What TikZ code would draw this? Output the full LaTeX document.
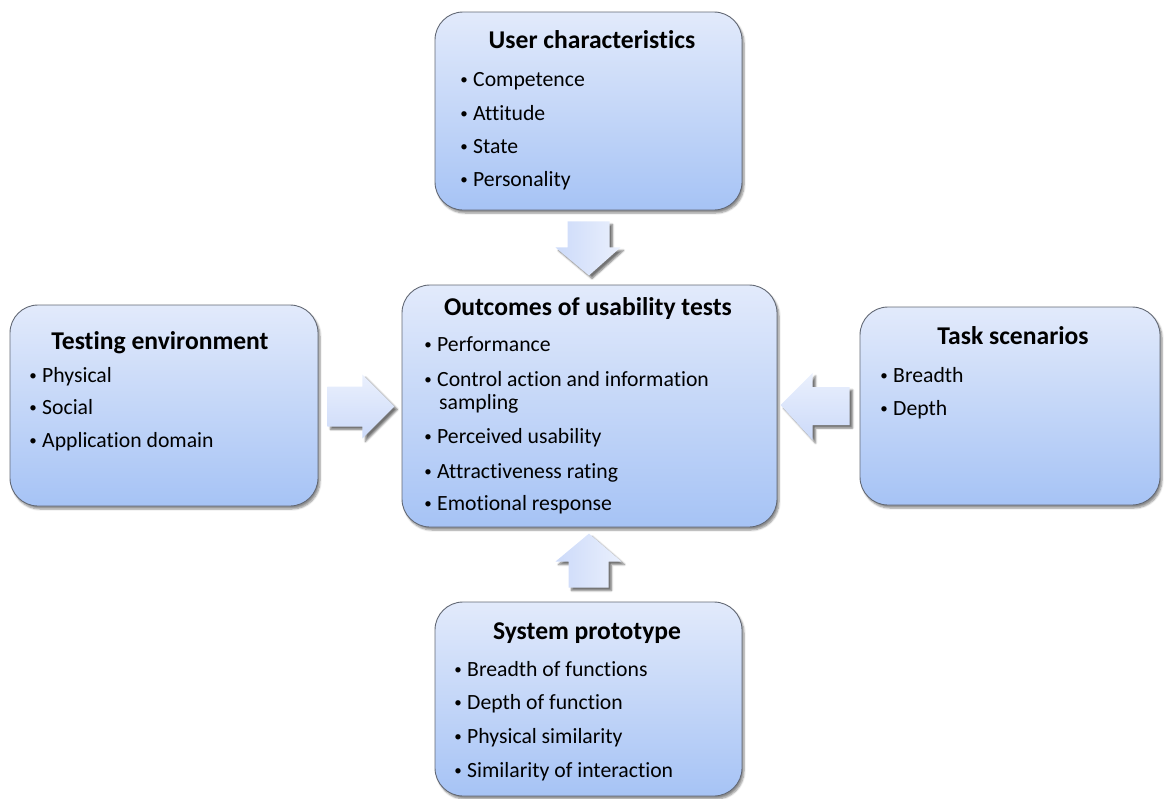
\documentclass[tikz,border=0pt]{standalone}
\usepackage{fontspec}
\setmainfont{Carlito}[Ligatures={NoCommon}]
\usetikzlibrary{calc,shadows.blur}
\definecolor{boxtop}{RGB}{226,234,251}
\definecolor{boxbot}{RGB}{166,195,245}
\definecolor{boxline}{RGB}{98,104,116}
\definecolor{arrA}{RGB}{204,218,249}
\definecolor{arrB}{RGB}{234,240,253}
\tikzset{
  box/.style={draw=boxline, line width=0.9pt, rounded corners=28pt,
    top color=boxtop, bottom color=boxbot, inner sep=0pt,
    blur shadow={shadow xshift=2pt, shadow yshift=-3pt, shadow blur steps=6, shadow opacity=45}},
  head/.style={font=\bfseries\fontsize{25.6}{30}\selectfont, anchor=base, inner sep=0pt},
  itm/.style={font=\fontsize{21.7}{26}\selectfont, anchor=base west, inner sep=0pt},
  bul/.style={font=\fontsize{15}{18}\selectfont, anchor=base east, inner sep=0pt},
  varrow/.style={left color=arrA, right color=arrB,
    blur shadow={shadow xshift=3pt, shadow yshift=-3pt, shadow blur steps=5, shadow opacity=55}},
  harrow/.style={top color=arrB, bottom color=arrA,
    blur shadow={shadow xshift=3pt, shadow yshift=-3pt, shadow blur steps=5, shadow opacity=55}}
}
\newcommand{\bitem}[4]{%
  \node[itm] (#1) at (#2,#3) {#4};
  \node[bul] (#1b) at ([xshift=-5pt,yshift=1.8pt]#1.base west) {•};}
\begin{document}
\begin{tikzpicture}[x=1pt,y=-1pt]
\useasboundingbox (0,0) rectangle (1166,798);

% boxes
\node[box, minimum width=307pt, minimum height=198pt] (user) at (588.5,111) {};
\node[box, minimum width=375pt, minimum height=242pt] (out) at (589.5,406) {};
\node[box, minimum width=308pt, minimum height=201pt] (env) at (164,405.5) {};
\node[box, minimum width=300pt, minimum height=198pt] (task) at (1010,406) {};
\node[box, minimum width=307pt, minimum height=194pt] (sys) at (588.5,699) {};

% block arrows
\begin{scope}[shift={(user.south)}]
  \path[varrow] (-21,11) -- (21,11) -- (21,37) -- (32,37) -- (0.5,65) -- (-33,37) -- (-21,37) -- cycle;
\end{scope}
\begin{scope}[shift={(sys.north)}]
  \path[varrow] (-20,-14) -- (20,-14) -- (20,-40) -- (33,-40) -- (0.5,-68) -- (-33,-40) -- (-20,-40) -- cycle;
\end{scope}
\begin{scope}[shift={(env.east)}]
  \path[harrow] (9,-19) -- (44,-19) -- (44,-31) -- (76,1) -- (44,33) -- (44,21) -- (9,21) -- cycle;
\end{scope}
\begin{scope}[shift={(task.west)}]
  \path[harrow] (-10,-19) -- (-47,-19) -- (-47,-33) -- (-79,-1) -- (-47,34) -- (-47,19) -- (-10,19) -- cycle;
\end{scope}

% User characteristics
\node[head] (userh) at (592,48) {User characteristics};
\bitem{u1}{473}{86}{Competence}
\bitem{u2}{473}{120}{Attitude}
\bitem{u3}{473}{153}{State}
\bitem{u4}{473}{186}{Personality}

% Outcomes
\node[head] (outh) at (588,315) {Outcomes of usability tests};
\bitem{o1}{437}{351}{Performance}
\bitem{o2}{437}{386}{Control action and information}
\node[itm] (o2b2) at (439,409) {sampling};
\bitem{o3}{437}{443}{Perceived usability}
\bitem{o4}{437}{478}{Attractiveness rating}
\bitem{o5}{437}{510}{Emotional response}

% Testing environment
\node[head] (envh) at (160,349) {Testing environment};
\bitem{e1}{42}{382}{Physical}
\bitem{e2}{42}{414}{Social}
\bitem{e3}{42}{447}{Application domain}

% Task scenarios
\node[head] (taskh) at (1013,344) {Task scenarios};
\bitem{t1}{893}{382}{Breadth}
\bitem{t2}{893}{415}{Depth}

% System prototype
\node[head] (sysh) at (587,639) {System prototype};
\bitem{s1}{467}{676}{Breadth of functions}
\bitem{s2}{467}{709}{Depth of function}
\bitem{s3}{467}{743}{Physical similarity}
\bitem{s4}{467}{777}{Similarity of interaction}
\end{tikzpicture}
\end{document}
